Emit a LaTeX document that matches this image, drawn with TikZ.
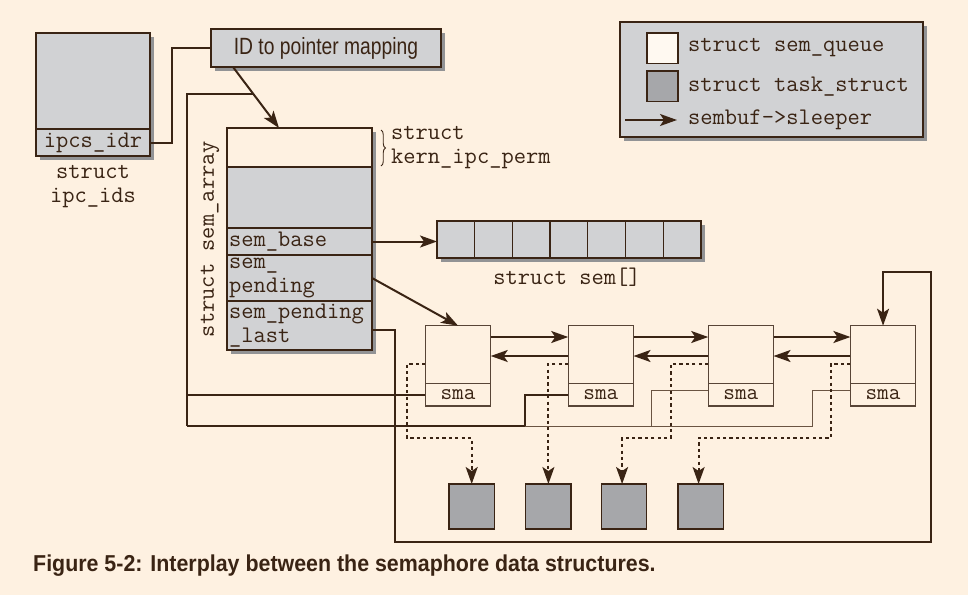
\documentclass[tikz,border=0pt]{standalone}
\usepackage{fontspec}
\setmainfont{Liberation Sans}
\newfontfamily\monof{Latin Modern Mono}
\newfontfamily\idfont[FakeStretch=0.82]{Liberation Sans}
\newfontfamily\capfont[FakeStretch=0.93]{Liberation Sans Bold}
\usetikzlibrary{shadows,arrows.meta,decorations.pathreplacing}
\definecolor{bgc}{HTML}{FEF1E1}
\definecolor{ink}{HTML}{3A2414}
\definecolor{lgray}{HTML}{D1D2D4}
\definecolor{dgray}{HTML}{A6A7AA}
\definecolor{shg}{HTML}{929395}
\definecolor{qline}{HTML}{6A5442}
\definecolor{wq}{HTML}{FFF9F1}
\tikzset{
  box/.style={draw=ink, line width=1.3pt, inner sep=0pt, outer sep=0pt, anchor=north west},
  shbox/.style={box, drop shadow={shadow xshift=4pt, shadow yshift=-4pt, fill=shg, opacity=1}},
  qbox/.style={box, draw=ink!85, line width=1.1pt, fill=bgc},
  mono/.style={font=\monof\fontsize{23.8}{24}\selectfont, text=ink},
  smono/.style={font=\monof\fontsize{22.6}{24}\selectfont, text=ink},
  rowtext/.style={box, mono, fill=lgray, minimum width=145pt, text width=141pt, inner xsep=2pt, align=left},
  conn/.style={draw=ink, line width=2pt},
  thinln/.style={draw=qline, line width=1pt},
  arr/.style={-{Stealth[length=17pt,width=12pt,inset=4pt]}},
  dsh/.style={draw=ink, line width=2pt, dash pattern=on 3.2pt off 3.2pt},
}
\begin{document}
\begin{tikzpicture}[x=1pt,y=-1pt]
\useasboundingbox (0,0) rectangle (968,595);
\fill[bgc] (0,0) rectangle (968,595);

% struct ipc_ids
\node[shbox, fill=lgray, minimum width=114pt, minimum height=123pt] (ipc) at (36,33) {};
\node[box, mono, fill=lgray, minimum width=114pt, minimum height=27pt] (idr) at (36,129) {ipcs\_idr};
\node[mono, align=center] (ipclbl) at (93,187) {struct\\ipc\_ids};

% ID to pointer mapping
\node[shbox, fill=lgray, minimum width=230pt, minimum height=38pt,
      font=\idfont\fontsize{23.5}{26}\selectfont, text=ink] (idbox) at (211,29) {ID to pointer mapping};

% struct sem_array
\node[shbox, fill=lgray, minimum width=145pt, minimum height=222pt] (sa) at (227,128) {};
\node[box, fill=bgc, minimum width=145pt, minimum height=39pt] (perm) at (227,128) {};
\node[rowtext, minimum height=27pt] (base) at (227,228) {sem\_base};
\node[rowtext, minimum height=46pt] (pending) at (227,255) {sem\_\\pending};
\node[rowtext, minimum height=49pt] (last) at (227,301) {sem\_pending\\\_last};
\node[mono, rotate=90] (satxt) at (210,239) {struct sem\_array};
\draw[ink, line width=0.9pt, decorate, decoration={brace, amplitude=4.5pt}] (381,130) -- (381,166);
\node[mono, anchor=west, align=left, inner sep=0pt] (kp) at (391,148) {struct\\kern\_ipc\_perm};

% struct sem[]
\node[shbox, fill=lgray, minimum width=264pt, minimum height=37pt] (semarr) at (437,221) {};
\foreach \i in {0,...,6}{
  \node[box, fill=lgray, minimum width=37.71pt, minimum height=37pt] (c\i) at (437+\i*37.71,221) {};
}
\node[mono] (semlbl) at (567,277) {struct sem[]};

% sem_queue boxes
\foreach \n/\x in {1/425.4, 2/568.2, 3/708.2, 4/850.4}{
  \node[qbox, minimum width=65.3pt, minimum height=80.3pt] (q\n) at (\x,325.7) {};
  \node[qbox, smono, minimum width=65.3pt, minimum height=22.7pt] (s\n) at (\x,383.3) {sma};
}

% task_struct boxes
\foreach \n/\x in {1/449, 2/525.7, 3/601.4, 4/677.9}{
  \node[box, fill=dgray, minimum width=45.4pt, minimum height=45pt] (t\n) at (\x,484) {};
}

% legend
\node[shbox, fill=lgray, minimum width=303pt, minimum height=115pt] (leg) at (620,22) {};
\node[box, fill=wq, minimum width=31pt, minimum height=30.6pt] (lq) at (647,33) {};
\node[box, fill=dgray, minimum width=31pt, minimum height=30.6pt] (lt) at (647,71) {};
\node[mono, anchor=west, inner sep=0pt] (lqt) at (688,48) {struct sem\_queue};
\node[mono, anchor=west, inner sep=0pt] (ltt) at (688,87) {struct task\_struct};
\node[mono, anchor=west, inner ysep=0pt, inner xsep=11pt] (lst) at (677,120) {sembuf->sleeper};
\coordinate (la) at (625,120);
\draw[conn, arr] (la) -- (lst.west);

% caption
\node[font=\capfont\fontsize{23}{26}\selectfont, text=ink, anchor=west, inner sep=0pt] (cap) at (33,566)
  {Figure 5-2: Interplay between the semaphore data structures.};

% coordinates for free line ends / bends
\coordinate (J) at (253,94);
\coordinate (L) at (187,94);
\coordinate (B) at (187,426);
\coordinate (k2) at (524.6,426);
\coordinate (m3) at (651.4,426);
\coordinate (m4) at (812,426);
\coordinate (d1) at (407,438);
\coordinate (d3) at (671,438);
\coordinate (d4) at (830.7,438);
\coordinate (lb) at (395,542);
\coordinate (rt) at (931,272);

% connectors
\draw[conn] (idr.east) -- ++(22,0) |- (idbox.west);
\draw[conn, arr] ([xshift=22pt]idbox.south west) -- ([xshift=52pt]sa.north west);
\draw[conn, arr] (base.east) -- (base.east -| semarr.west);
\draw[conn, arr] (pending.east) -- (q1.north);

\foreach \a/\b in {1/2, 2/3, 3/4}{
  \draw[conn, arr] ([yshift=28.85pt]q\a.east) -- ([yshift=28.85pt]q\b.west);
  \draw[conn, arr] ([yshift=9.85pt]q\b.west) -- ([yshift=9.85pt]q\a.east);
}

% sma pointers back to sem_array
\draw[conn] (J) -- (L) -- (B);
\draw[conn] (s1.west) -- (s1.west -| L);
\draw[conn] (s2.west) -| (k2) -- (B);
\draw[thinln] ([yshift=3.7pt]s3.west) -| (m3);
\draw[thinln] ([yshift=3.7pt]s4.west) -| (m4) -- (k2);

% sleeper pointers
\draw[dsh, arr] ([yshift=2pt]q1.west) -| (d1) -| (t1.north);
\draw[dsh, arr] ([yshift=2pt]q2.west) -| (t2.north);
\draw[dsh, arr] ([yshift=2pt]q3.west) -| (d3) -| ([xshift=-2pt]t3.north);
\draw[dsh, arr] ([yshift=2pt]q4.west) -| (d4) -| ([xshift=-2pt]t4.north);

% sem_pending_last loop
\draw[conn, arr] ([yshift=-4.5pt]last.east) -| (lb) -| (rt) -| (q4.north);
\end{tikzpicture}
\end{document}
